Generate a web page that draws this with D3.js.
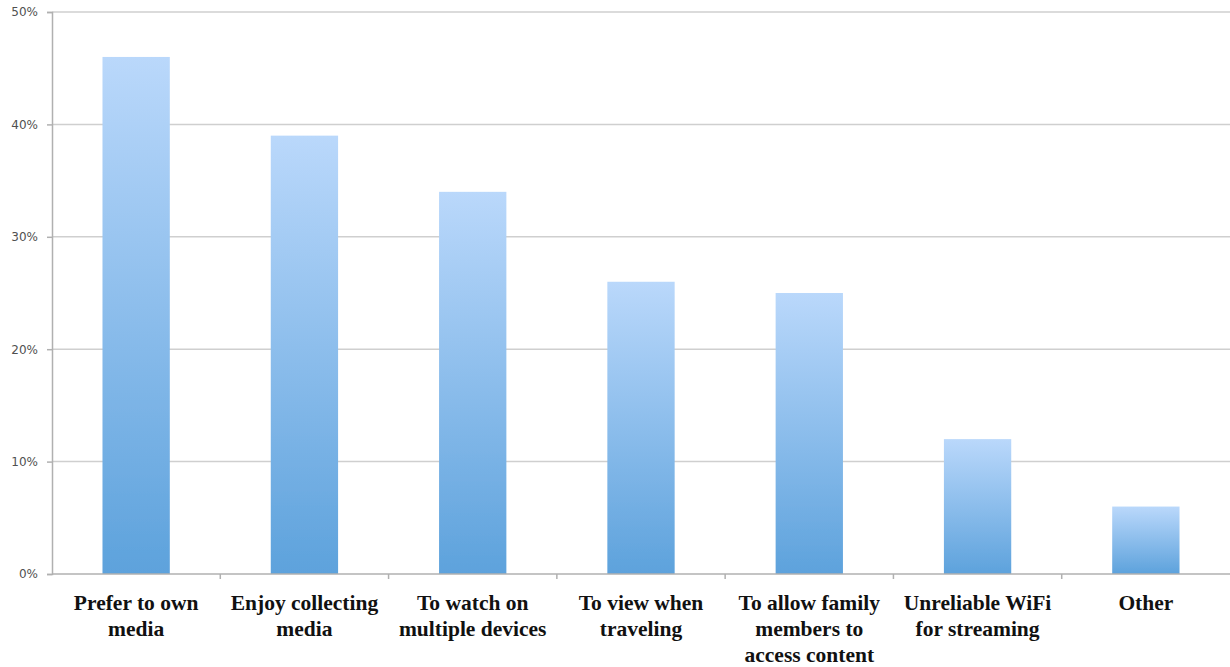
<!DOCTYPE html>
<html>
<head>
<meta charset="utf-8">
<script src="https://cdn.jsdelivr.net/npm/d3@7/dist/d3.min.js"></script>
<style>
  html, body { margin: 0; padding: 0; background: #fff; }
  svg { display: block; }
</style>
</head>
<body>
<svg id="chart" width="1230" height="667"></svg>
<script>
// Reasons for buying physical media, share of respondents
const categories = [
  ["Prefer to own", "media"],
  ["Enjoy collecting", "media"],
  ["To watch on", "multiple devices"],
  ["To view when", "traveling"],
  ["To allow family", "members to", "access content"],
  ["Unreliable WiFi", "for streaming"],
  ["Other"]
];
const values = [46, 39, 34, 26, 25, 12, 6];
const yTicks = [0, 10, 20, 30, 40, 50];

const svg = d3.select("#chart");
const margin = { left: 52, right: 0, top: 12, bottom: 93 };
const W = 1230, H = 667;

const x = d3.scaleBand()
  .domain(d3.range(categories.length))
  .range([margin.left, W - margin.right])
  .paddingInner(0.6)
  .paddingOuter(0.3);

const y = d3.scaleLinear().domain([0, 50]).range([H - margin.bottom, margin.top]);

// bar gradient
const defs = svg.append("defs");
const grad = defs.append("linearGradient")
  .attr("id", "barGrad").attr("x1", 0).attr("y1", 0).attr("x2", 0).attr("y2", 1);
grad.append("stop").attr("offset", "0%").attr("stop-color", "#bad8fb");
grad.append("stop").attr("offset", "100%").attr("stop-color", "#5da2dc");
defs.append("filter").attr("id", "soft")
  .append("feGaussianBlur").attr("stdDeviation", 0.6);

// horizontal gridlines
svg.append("g")
  .selectAll("line")
  .data(yTicks.filter(d => d > 0))
  .join("line")
  .attr("x1", margin.left).attr("x2", W)
  .attr("y1", d => y(d)).attr("y2", d => y(d))
  .attr("stroke", "#cfcfcf").attr("stroke-width", 1.5);

// y axis
const yAxis = svg.append("g")
  .attr("transform", `translate(${margin.left},0)`)
  .call(d3.axisLeft(y).tickValues(yTicks).tickFormat(d => d + "%").tickSize(5).tickPadding(9));
yAxis.select(".domain").attr("stroke", "#b0b0b0").attr("stroke-width", 1.5);
yAxis.selectAll(".tick line").attr("stroke", "#b0b0b0").attr("stroke-width", 1.5);
yAxis.selectAll(".tick text")
  .attr("font-family", "'DejaVu Sans', 'Liberation Sans', sans-serif")
  .attr("font-size", 12).attr("fill", "#505050");

// bars
svg.append("g")
  .selectAll("rect")
  .data(values)
  .join("rect")
  .attr("x", (d, i) => x(i))
  .attr("width", x.bandwidth())
  .attr("y", d => y(d))
  .attr("height", d => y(0) - y(d))
  .attr("fill", "url(#barGrad)")
  .attr("filter", "url(#soft)");

// x axis baseline and category separators
const bounds = d3.range(categories.length + 1).map(i => margin.left + i * (W - margin.left) / categories.length);
svg.append("line")
  .attr("x1", margin.left).attr("x2", W)
  .attr("y1", y(0)).attr("y2", y(0))
  .attr("stroke", "#b0b0b0").attr("stroke-width", 1.5);
svg.append("g")
  .selectAll("line")
  .data(bounds.slice(1, -1))
  .join("line")
  .attr("x1", d => d).attr("x2", d => d)
  .attr("y1", y(0)).attr("y2", y(0) + 5)
  .attr("stroke", "#b0b0b0").attr("stroke-width", 1.5);

// category labels
const labels = svg.append("g")
  .attr("font-family", "'Liberation Serif', 'Times New Roman', serif")
  .attr("font-weight", "bold")
  .attr("font-size", 21.5)
  .attr("fill", "#111")
  .attr("text-anchor", "middle");
labels.selectAll("text")
  .data(categories)
  .join("text")
  .attr("x", (d, i) => x(i) + x.bandwidth() / 2)
  .attr("y", 610)
  .each(function(lines) {
    d3.select(this).selectAll("tspan")
      .data(lines)
      .join("tspan")
      .attr("x", d3.select(this).attr("x"))
      .attr("dy", (d, j) => j === 0 ? 0 : 26)
      .text(d => d);
  });
</script>
</body>
</html>
